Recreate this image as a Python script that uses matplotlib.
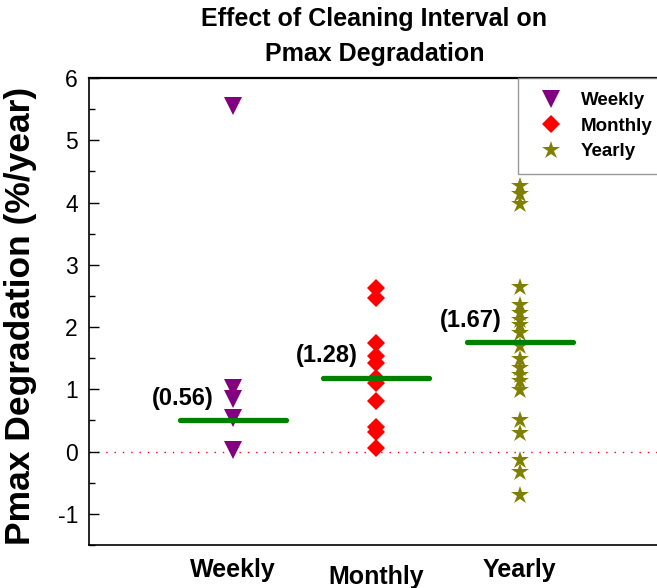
import matplotlib
matplotlib.use("Agg")
import matplotlib.pyplot as plt
import matplotlib.transforms as mtransforms

plt.rcParams['font.family'] = ['Liberation Sans', 'DejaVu Sans']
plt.rcParams['axes.unicode_minus'] = False

# Data
categories = ["Weekly", "Monthly", "Yearly"]
weekly = [5.55, 1.02, 0.84, 0.54, 0.03]
monthly = [2.63, 2.47, 1.74, 1.53, 1.42, 1.18, 1.10, 0.81, 0.40, 0.32, 0.06]
yearly = [4.26, 4.13, 3.97, 2.65, 2.36, 2.23, 2.12, 2.04, 1.90, 1.69, 1.48,
          1.34, 1.23, 1.13, 0.99, 0.51, 0.30, -0.13, -0.32, -0.69]
mean_lines = [0.50, 1.19, 1.76]
mean_labels = ["(0.56)", "(1.28)", "(1.67)"]

series = [weekly, monthly, yearly]
markers = ["v", "D", "*"]
sizes = [12.5, 9.5, 13.5]
colors = ["#800080", "#ff0000", "#808000"]

fig = plt.figure(figsize=(6.57, 5.88), dpi=100)
ax = fig.add_axes([0.1355, 0.0731, 0.8744, 0.7942])

# reference zero line
ax.axhline(0, color="red", linestyle=(0, (1, 5)), linewidth=1, zorder=1)

for i, (vals, name) in enumerate(zip(series, categories)):
    x = [i + 1] * len(vals)
    ax.plot(x, vals, linestyle="none", marker=markers[i], markersize=sizes[i],
            color=colors[i], markeredgewidth=0, label=name, zorder=3)

for i, m in enumerate(mean_lines):
    ax.plot([i + 1 - 0.37, i + 1 + 0.37], [m, m], color="#008000",
            linewidth=3.8, solid_capstyle="round", zorder=4)
    ax.text(i + 1 - 0.13, m + 0.35, mean_labels[i], ha="right", va="center",
            fontsize=17, fontweight="bold")

ax.set_xlim(0, 4)
ax.set_ylim(-1.5, 6)
ax.set_yticks(range(-1, 7))
ax.set_yticks([v + 0.5 for v in range(-2, 6)], minor=True)
ax.tick_params(axis="y", which="major", direction="in", length=7, width=1,
               labelsize=16.5, pad=8)
ax.tick_params(axis="y", which="minor", direction="in", length=4, width=1)
ax.set_xticks([])

for s in ax.spines.values():
    s.set_linewidth(1.2)
ax.spines["top"].set_linewidth(1.6)

# category labels under the axis (Monthly sits a little lower)
trans = mtransforms.blended_transform_factory(ax.transData, ax.transAxes)
label_y = [-0.0535, -0.0685, -0.0535]
for i, name in enumerate(categories):
    ax.text(i + 1, label_y[i], name, transform=trans, ha="center", va="center",
            fontsize=18, fontweight="bold")

ax.set_ylabel("Pmax Degradation (%/year)", fontsize=25.5, fontweight="bold")
ax.yaxis.set_label_coords(-0.09, 0.49)

fig.text(0.57, 0.938, "Effect of Cleaning Interval on\nPmax Degradation",
         ha="center", va="center", fontsize=18, fontweight="bold",
         linespacing=1.55)

leg = ax.legend(loc="upper left", bbox_to_anchor=(0.747, 1.0),
                borderaxespad=0, fancybox=False, edgecolor="gray",
                prop={"weight": "bold", "size": 13.5}, labelspacing=0.45,
                handletextpad=0.6, borderpad=0.75)
leg.get_frame().set_linewidth(1)

fig.savefig("out.png", dpi=100)
